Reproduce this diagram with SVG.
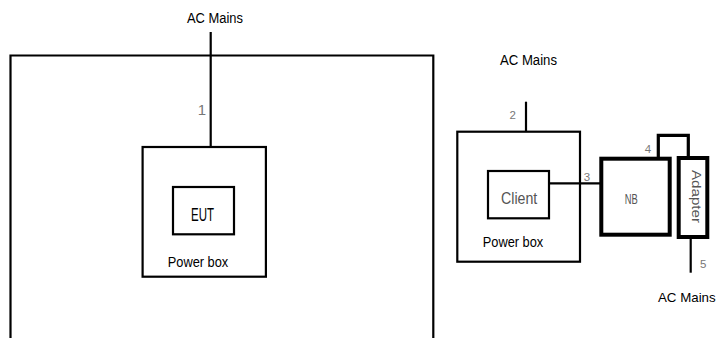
<svg xmlns="http://www.w3.org/2000/svg" width="716" height="338" viewBox="0 0 716 338">
<style>
  .bg { fill: #ffffff; }
  .box { fill: none; stroke: #000; stroke-width: 2.2; }
  .thick { fill: none; stroke: #000; stroke-width: 4; }
  .wire { fill: none; stroke: #000; stroke-width: 2.2; }
  .wire3 { fill: none; stroke: #000; stroke-width: 3.2; }
  .lbl { font-family: "Liberation Sans", Arial, sans-serif; fill: #000; }
  .num { font-family: "Liberation Sans", Arial, sans-serif; fill: #777; }
  .gray { font-family: "Liberation Sans", Arial, sans-serif; fill: #555; }
</style>
<rect class="bg" x="0" y="0" width="716" height="338"/>

<g id="room">
  <path class="box" d="M10.5 340 V55.5 H433.3 V340"/>
</g>

<g id="powerbox1">
  <rect class="box" x="142.6" y="147" width="123.3" height="129.7" stroke-width="2.5"/>
  <text class="lbl" x="167.7" y="267.3" font-size="15.5" textLength="60.6" lengthAdjust="spacingAndGlyphs">Power box</text>
</g>

<g id="eut">
  <rect class="box" x="173" y="187" width="61" height="47.3"/>
  <text class="lbl" x="191" y="220.7" font-size="18" textLength="23" lengthAdjust="spacingAndGlyphs">EUT</text>
</g>

<g id="powerbox2">
  <rect class="box" x="457.3" y="131.7" width="122.7" height="130"/>
  <text class="lbl" x="482.7" y="247.3" font-size="15.5" textLength="60.6" lengthAdjust="spacingAndGlyphs">Power box</text>
</g>

<g id="client">
  <rect class="box" x="488" y="171" width="61" height="47.3"/>
  <text class="gray" x="501" y="204.3" font-size="16.5" textLength="36.3" lengthAdjust="spacingAndGlyphs">Client</text>
</g>

<g id="nb">
  <rect class="thick" x="601.3" y="158.7" width="68.4" height="76"/>
  <text class="gray" x="624.8" y="204.3" font-size="14.5" textLength="13" lengthAdjust="spacingAndGlyphs" fill="#444">NB</text>
</g>

<g id="adapter">
  <rect class="thick" x="678.7" y="158" width="28.6" height="79"/>
  <text class="gray" transform="translate(692,170) rotate(90)" x="0" y="0" font-size="13" textLength="53" lengthAdjust="spacingAndGlyphs" fill="#444">Adapter</text>
</g>

<g id="connectors">
  <path class="wire" d="M210.7 32 V147"/>
  <path class="wire" d="M526 101.7 V131.7"/>
  <path class="wire" d="M549 183.3 H600"/>
  <path class="wire3" d="M658.3 157 V135.3 H688.3 V156.5"/>
  <path class="wire" d="M690.7 239 V272.7" stroke-width="2.6"/>
</g>

<g id="labels">
  <text class="lbl" x="187" y="22.6" font-size="15.5" textLength="56" lengthAdjust="spacingAndGlyphs">AC Mains</text>
  <text class="lbl" x="500" y="65" font-size="15.5" textLength="57" lengthAdjust="spacingAndGlyphs">AC Mains</text>
  <text class="lbl" x="658" y="301.5" font-size="13.3">AC Mains</text>
  <text class="num" x="202" y="115.2" font-size="15" text-anchor="middle">1</text>
  <text class="num" x="512.7" y="119.3" font-size="11.5" text-anchor="middle">2</text>
  <text class="num" x="587" y="180.8" font-size="11.5" text-anchor="middle">3</text>
  <text class="num" x="648" y="153" font-size="11.5" text-anchor="middle">4</text>
  <text class="num" x="703.3" y="268.2" font-size="11.5" text-anchor="middle">5</text>
</g>
</svg>
